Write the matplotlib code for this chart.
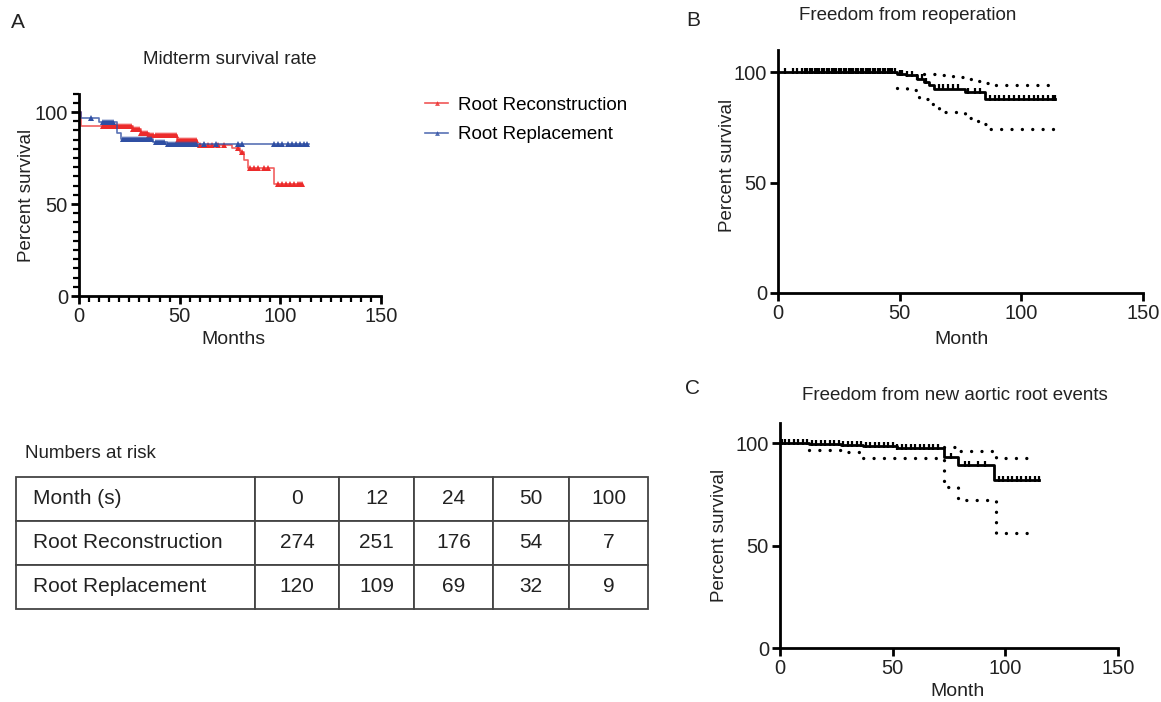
import numpy as np
import matplotlib
matplotlib.use("Agg")
import matplotlib.pyplot as plt
from matplotlib.lines import Line2D

plt.rcParams['font.family'] = ['Liberation Sans', 'DejaVu Sans']

# ---- panel A : midterm survival (step curves + censor times)
recon_t = [0, 1, 27, 31, 35, 48.5, 58.5, 76, 80, 82, 84, 97, 111]
recon_s = [100, 92.5, 90.9, 88.6, 87.3, 84.6, 82.1, 80.2, 78, 74, 69.5, 61, 61]
recon_cens = [12, 13, 14, 15, 16, 17, 18, 19, 20, 21, 22, 23, 24, 25, 26, 27, 28, 29,
              30, 31, 32, 33, 34, 35, 36, 37, 38, 39, 40, 41, 42, 43, 44, 45, 46, 47,
              48, 49, 50, 51, 52, 53, 54, 55, 56, 57, 58, 60, 62, 64, 66, 69, 72,
              79, 81, 85, 87, 89, 92, 94, 99, 101, 103, 105, 107, 109, 110, 111]

repl_t = [0, 1, 10, 19, 21, 37, 43.5, 114]
repl_s = [100, 96.6, 94.4, 88.4, 85.1, 83.9, 82.4, 82.4]
repl_cens = [6, 12, 13, 14, 15, 16, 17, 22, 23, 24, 25, 26, 27, 28, 29, 30, 31, 32, 33,
             34, 35, 36, 38, 39, 40, 41, 42, 44, 45, 46, 47, 48, 49, 50, 51, 52, 53, 54,
             55, 56, 57, 58, 62, 68, 79, 81, 97, 99, 101, 104, 106, 108, 110, 112, 113]

# ---- panel B : freedom from reoperation
reop_t = [0, 49, 52.5, 57, 60, 62, 64, 77, 85, 114]
reop_s = [100, 99.2, 98.5, 97, 95.5, 94, 92.5, 91, 87.8, 87.8]
reop_cens = [3, 6, 8, 10, 11, 12, 13, 14, 15, 16, 17, 18, 19, 20, 21, 22, 23, 24, 25,
             26, 27, 28, 29, 30, 31, 32, 33, 34, 35, 36, 37, 38, 39, 40, 41, 42, 43, 44,
             45, 46, 47, 48, 50, 51, 53, 55, 57, 59, 61, 66, 68, 70, 72, 74, 78, 81, 83,
             87, 89, 91, 93, 95, 97, 99, 101, 103, 105, 107, 109, 111, 113, 114]
reop_up_t = [60, 66, 72, 79, 82, 85, 89, 111]
reop_up_s = [99, 98.5, 98, 97, 96, 95, 94.3, 94.3]
reop_lo_t = [49, 53, 58, 62, 66, 77, 80, 84, 86, 114]
reop_lo_s = [93, 91.7, 88, 85.7, 82, 79, 78, 76.7, 74.4, 74.4]

# ---- panel C : freedom from new aortic root events
root_t = [0, 13, 27, 37, 52, 73, 79, 95, 115]
root_s = [100, 99.5, 99, 98.3, 97.6, 93.1, 89.4, 82, 82]
root_cens = [1, 2, 4, 6, 8, 10, 12, 14, 16, 18, 20, 22, 24, 26, 28, 30, 32, 34, 36, 38,
             40, 42, 44, 46, 48, 50, 52, 54, 56, 58, 60, 62, 64, 66, 68, 70, 76, 82,
             84, 88, 91, 97, 99, 101, 103, 105, 107, 109, 111, 113, 115]
root_up_t = [73, 78, 96, 111]
root_up_s = [98, 96.3, 92.7, 92.7]
root_lo_t = [13, 30, 36, 73, 79, 96, 112]
root_lo_s = [96.7, 95.5, 92.7, 78.5, 72, 56.2, 56.2]

# ---- numbers at risk table
risk_header = ['Month (s)', '0', '12', '24', '50', '100']
risk_recon = ['Root Reconstruction', '274', '251', '176', '54', '7']
risk_repl = ['Root Replacement', '120', '109', '69', '32', '9']

RED = '#ec2b2b'
BLUE = '#2f4fa3'

W, H = 1161, 702
fig = plt.figure(figsize=(W / 100, H / 100), dpi=100)


def box(x0, x1, top, bottom):
    # pixel box (top-left origin) -> figure fraction rect
    return [x0 / W, 1 - bottom / H, (x1 - x0) / W, (bottom - top) / H]


def at(t, s, c):
    i = np.searchsorted(t, c, side='right') - 1
    return np.asarray(s)[i]


def style(ax, minor=False):
    for sp in ['top', 'right']:
        ax.spines[sp].set_visible(False)
    for sp in ['left', 'bottom']:
        ax.spines[sp].set_linewidth(2)
    ax.set_xlim(0, 150)
    ax.set_ylim(0, 110)
    ax.set_xticks([0, 50, 100, 150])
    ax.set_yticks([0, 50, 100])
    ax.tick_params(width=2, length=6, labelsize=14.5, pad=2, labelcolor='#222222')
    if minor:
        ax.set_xticks(np.arange(0, 151, 5), minor=True)
        ax.set_yticks(np.arange(0, 111, 5), minor=True)
        ax.tick_params(which='minor', width=1.6, length=4)
    ax.patch.set_alpha(0)


# panel A
axA = fig.add_axes(box(79, 381, 93.6, 296))
style(axA, minor=True)
axA.step(recon_t, recon_s, where='post', color=RED, lw=1.2, alpha=0.75)
axA.plot(recon_cens, at(recon_t, recon_s, recon_cens), '^', color=RED, ms=4, mew=0)
axA.step(repl_t, repl_s, where='post', color=BLUE, lw=1.2, alpha=0.8)
axA.plot(repl_cens, at(repl_t, repl_s, repl_cens), '^', color=BLUE, ms=4, mew=0)

handles = [Line2D([], [], color=RED, lw=1.2, marker='^', ms=3.5, mew=0, alpha=0.8),
           Line2D([], [], color=BLUE, lw=1.2, marker='^', ms=3.5, mew=0, alpha=0.8)]
fig.legend(handles, ['Root Reconstruction', 'Root Replacement'], loc='upper left',
           bbox_to_anchor=(408 / W, 1 - 80 / H), frameon=False, fontsize=13.5,
           handlelength=1.25, handletextpad=0.5, labelspacing=0.65)

fig.text(230 / W, 1 - 60 / H, 'Midterm survival rate', ha='center', va='center',
         fontsize=13.5, color='#222222')
fig.text(233 / W, 1 - 340 / H, 'Months', ha='center', va='center', fontsize=14, color='#222222')
fig.text(27 / W, 1 - 195 / H, 'Percent survival', ha='center', va='center',
         rotation=90, fontsize=13.5, color='#222222')
fig.text(18 / W, 1 - 22 / H, 'A', ha='center', va='center', fontsize=15, color='#222222')

# panel B
axB = fig.add_axes(box(778, 1143, 50, 293))
style(axB)
dots = dict(color='black', lw=2.4, linestyle=(0, (0.01, 3.1)), dash_capstyle='round')
axB.step(reop_up_t, reop_up_s, where='post', **dots)
axB.step(reop_lo_t, reop_lo_s, where='post', **dots)
axB.step(reop_t, reop_s, where='post', color='black', lw=2)
axB.plot(reop_cens, at(reop_t, reop_s, reop_cens) + 0.6, '|', color='black', ms=5, mew=1.6)
fig.text(908 / W, 1 - 15 / H, 'Freedom from reoperation', ha='center', va='center',
         fontsize=13.5, color='#222222')
fig.text(961 / W, 1 - 339 / H, 'Month', ha='center', va='center', fontsize=14, color='#222222')
fig.text(727 / W, 1 - 165 / H, 'Percent survival', ha='center', va='center',
         rotation=90, fontsize=13.5, color='#222222')
fig.text(693 / W, 1 - 20 / H, 'B', ha='center', va='center', fontsize=15, color='#222222')

# panel C
axC = fig.add_axes(box(780, 1118, 422.5, 648))
style(axC)
axC.step(root_up_t, root_up_s, where='post', **dots)
axC.step(root_lo_t, root_lo_s, where='post', **dots)
axC.step(root_t, root_s, where='post', color='black', lw=2)
axC.plot(root_cens, at(root_t, root_s, root_cens) + 0.6, '|', color='black', ms=4.5, mew=1.6)
fig.text(955 / W, 1 - 396 / H, 'Freedom from new aortic root events', ha='center',
         va='center', fontsize=13.5, color='#222222')
fig.text(958 / W, 1 - 692 / H, 'Month', ha='center', va='center', fontsize=14, color='#222222')
fig.text(720 / W, 1 - 535 / H, 'Percent survival', ha='center', va='center',
         rotation=90, fontsize=13.5, color='#222222')
fig.text(693 / W, 1 - 388 / H, 'C', ha='center', va='center', fontsize=15, color='#222222')

# numbers at risk table
fig.text(25 / W, 1 - 454 / H, 'Numbers at risk', ha='left', va='center', fontsize=13.5,
         color='#222222')
axT = fig.add_axes(box(16, 648, 477, 609))
axT.axis('off')
widths = np.array([239, 84, 75, 79, 76, 79]) / 632
tab = axT.table(cellText=[risk_header, risk_recon, risk_repl], colWidths=list(widths),
                bbox=[0, 0, 1, 1], cellLoc='center')
tab.auto_set_font_size(False)
tab.set_fontsize(15)
for (r, c), cell in tab.get_celld().items():
    cell.set_edgecolor('#444444')
    cell.set_linewidth(1.3)
    cell.get_text().set_color('#222222')
    if c == 0:
        cell.get_text().set_ha('left')
        cell.PAD = 0.07
        cell._loc = 'left'

fig.savefig('out.png', dpi=100)
